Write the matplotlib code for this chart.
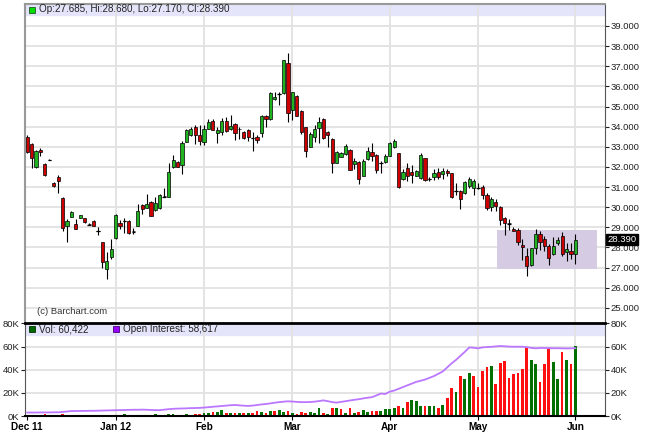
import matplotlib.pyplot as plt
from matplotlib.patches import Rectangle

plt.rcParams['font.family'] = ['Liberation Sans', 'DejaVu Sans']

# daily OHLC, Dec 1 2011 .. Jun 1 2012
opens = [33.50, 33.13, 32.01, 32.85, 32.13, 32.35, 31.20, 31.52, 30.47, 29.08,
         29.53, 29.17, 29.48, 29.45, 29.15, 29.33, 28.82, 28.26, 26.92, 27.52,
         28.46, 29.20, 29.33, 29.33, 28.80, 29.08, 30.11, 29.98, 30.28, 29.86,
         29.95, 30.55, 30.52, 31.98, 32.26, 32.10, 33.26, 33.59, 34.00, 33.59,
         33.26, 33.89, 34.30, 33.70, 33.75, 34.28, 33.87, 34.13, 33.90, 33.72,
         33.84, 33.44, 33.50, 33.67, 34.55, 34.38, 35.36, 35.64, 35.66, 37.15,
         34.83, 35.53, 34.78, 33.97, 33.00, 33.47, 33.92, 34.38, 33.72, 33.39,
         32.20, 32.51, 32.64, 32.84, 32.15, 32.26, 31.57, 32.38, 32.74, 32.60,
         32.20, 32.26, 32.55, 32.98, 32.68, 31.39, 31.93, 31.73, 31.57, 31.44,
         32.43, 31.38, 31.52, 31.77, 31.65, 31.82, 31.68, 30.80, 30.82, 30.69,
         31.06, 30.94, 30.96, 30.99, 30.61, 30.00, 30.28, 30.03, 29.45, 29.20,
         28.92, 28.87, 28.13, 27.58, 27.13, 27.96, 28.66, 28.41, 28.08, 27.68,
         28.24, 28.57, 27.76, 27.84, 27.685]
highs = [33.60, 33.18, 32.85, 32.95, 32.20, 32.38, 31.24, 31.58, 30.52, 29.40,
         29.80, 29.42, 29.63, 29.47, 29.20, 29.36, 29.00, 28.28, 27.79, 28.41,
         29.65, 29.37, 29.45, 29.36, 28.98, 30.16, 30.16, 30.66, 30.32, 30.52,
         30.64, 30.94, 32.18, 32.60, 32.30, 33.30, 33.88, 34.00, 34.10, 34.08,
         34.08, 34.40, 34.40, 34.00, 34.44, 34.50, 34.60, 34.16, 34.00, 33.80,
         33.88, 33.74, 33.60, 34.58, 34.60, 35.72, 35.74, 35.74, 37.33, 37.64,
         35.73, 35.56, 34.81, 34.00, 33.72, 34.10, 34.50, 34.42, 33.76, 33.42,
         32.79, 32.75, 33.13, 32.87, 32.45, 32.29, 32.38, 33.00, 33.20, 32.63,
         32.30, 32.66, 33.24, 33.41, 32.71, 31.90, 32.20, 32.10, 31.85, 32.70,
         32.46, 31.50, 31.88, 31.95, 31.95, 31.90, 31.71, 31.20, 30.85, 31.30,
         31.50, 31.40, 31.20, 31.10, 30.70, 30.50, 30.40, 30.06, 29.50, 29.40,
         29.02, 28.95, 28.40, 27.95, 27.99, 28.90, 28.80, 28.55, 28.15, 28.50,
         28.50, 28.77, 28.20, 28.20, 28.68]
lows = [32.70, 31.96, 31.95, 32.55, 31.55, 32.32, 31.02, 30.69, 28.82, 28.29,
        29.50, 28.90, 29.45, 29.20, 29.10, 29.05, 28.60, 26.97, 26.44, 27.45,
        28.40, 28.90, 28.70, 28.68, 28.66, 29.05, 29.66, 29.95, 29.55, 29.83,
        29.92, 30.50, 30.49, 31.95, 31.98, 31.65, 33.23, 33.56, 33.13, 33.10,
        33.10, 33.86, 33.81, 33.20, 33.57, 33.75, 33.84, 33.35, 33.40, 33.40,
        33.30, 32.80, 33.20, 33.50, 34.00, 34.35, 35.33, 35.08, 35.63, 34.25,
        34.33, 34.52, 33.62, 32.51, 32.97, 33.25, 33.20, 33.40, 33.00, 31.69,
        32.17, 32.48, 32.61, 31.83, 31.90, 31.15, 31.54, 32.35, 32.30, 31.68,
        31.68, 32.20, 32.52, 32.95, 30.95, 31.36, 31.30, 31.20, 31.54, 31.41,
        31.32, 31.28, 31.35, 31.40, 31.40, 31.55, 30.44, 30.60, 29.90, 30.66,
        30.95, 30.60, 30.90, 30.40, 29.85, 29.80, 29.80, 29.10, 28.60, 28.85,
        28.80, 28.10, 27.40, 26.60, 27.10, 27.70, 27.86, 27.83, 27.12, 27.62,
        28.10, 27.56, 27.35, 27.45, 27.17]
closes = [32.73, 32.43, 32.79, 32.75, 31.60, 32.35, 31.05, 31.30, 28.95, 29.33,
          29.75, 28.92, 29.60, 29.28, 29.14, 29.08, 28.80, 27.27, 27.35, 27.93,
          29.62, 29.08, 29.30, 28.70, 28.78, 29.83, 29.91, 30.16, 29.58, 30.23,
          30.61, 30.53, 31.73, 32.35, 32.01, 33.17, 33.84, 33.87, 33.59, 33.31,
          33.89, 34.25, 33.84, 33.84, 34.28, 33.78, 34.03, 33.70, 33.87, 33.42,
          33.50, 33.42, 33.34, 34.55, 34.40, 35.69, 35.49, 35.62, 37.30, 34.67,
          35.70, 34.55, 33.72, 32.81, 33.62, 33.89, 34.25, 33.42, 33.59, 32.18,
          32.76, 32.68, 33.04, 31.85, 32.31, 31.39, 32.30, 32.81, 32.54, 31.83,
          32.18, 32.56, 33.21, 33.31, 31.02, 31.77, 31.57, 31.60, 31.82, 32.60,
          31.35, 31.40, 31.72, 31.52, 31.82, 31.68, 30.52, 30.82, 30.39, 31.27,
          31.40, 31.32, 30.94, 30.61, 29.95, 30.39, 30.06, 29.37, 29.20, 29.17,
          28.84, 28.29, 28.00, 27.08, 27.96, 28.66, 28.29, 28.09, 27.47, 28.08,
          28.37, 27.68, 27.93, 27.68, 28.39]

# volume and open interest, thousands of contracts
volume_k = [0.3, 0.2, 0.3, 0.2, 1.5, 0.2, 0.3, 0.4, 1.5, 0.4,
            0.3, 0.3, 0.2, 0.3, 0.2, 0.3, 0.4, 0.5, 0.9, 0.6,
            1.2, 1.0, 1.3, 1.1, 1.2, 1.0, 0.8, 0.6, 1.2, 1.3,
            1.0, 0.8, 1.5, 1.4, 1.2, 1.0, 1.3, 1.1, 1.5, 1.6,
            3.0, 2.8, 3.2, 3.5, 5.0, 2.5, 2.8, 3.0, 2.5, 3.0,
            2.8, 2.2, 4.0, 3.5, 3.0, 4.5, 4.2, 5.5, 3.5, 4.0,
            3.0, 1.5, 3.5, 3.0, 3.5, 3.0, 7.0, 3.0, 1.5, 7.0,
            7.0, 6.0, 3.0, 6.5, 3.0, 3.5, 5.0, 3.5, 4.5, 4.5,
            4.5, 6.0, 6.3, 7.0, 8.5, 7.0, 12.0, 14.0, 13.0, 8.5,
            8.5, 8.5, 8.5, 7.0, 9.5, 15.5, 24.6, 21.0, 34.7, 32.0,
            37.0, 34.7, 25.0, 38.9, 42.0, 43.0, 28.0, 45.4, 47.7, 33.0,
            36.0, 37.0, 40.5, 59.9, 48.3, 44.8, 29.5, 44.8, 59.0, 46.8,
            31.8, 55.5, 48.3, 44.8, 60.4]
open_interest_k = [3.0, 3.0, 3.0, 3.1, 3.1, 3.1, 3.2, 3.2, 3.5, 3.9,
                   4.3, 4.3, 4.4, 4.4, 4.5, 4.5, 4.6, 4.7, 4.8, 4.9,
                   5.0, 5.1, 5.2, 5.3, 5.4, 5.4, 5.5, 5.4, 5.2, 5.1,
                   5.0, 5.5, 5.9, 6.2, 6.4, 6.5, 6.6, 6.8, 6.9, 7.0,
                   7.3, 7.6, 8.0, 8.3, 8.6, 9.0, 9.3, 9.5, 9.2, 8.9,
                   8.7, 9.0, 9.5, 10.0, 10.4, 10.9, 11.5, 12.0, 12.4, 12.7,
                   12.5, 12.2, 12.0, 12.0, 12.1, 12.4, 12.9, 13.5, 12.8, 12.0,
                   11.6, 12.2, 12.8, 13.4, 14.0, 14.5, 15.2, 15.8, 16.3, 17.8,
                   19.4, 19.0, 21.0, 22.0, 23.5, 25.0, 26.5, 28.0, 29.5, 30.5,
                   31.5, 33.0, 34.5, 36.5, 38.5, 42.0, 45.5, 48.5, 52.0, 55.5,
                   59.3, 59.0, 58.5, 59.3, 59.6, 59.8, 60.2, 60.5, 60.3, 60.0,
                   59.9, 59.9, 59.9, 59.5, 58.9, 58.5, 58.8, 58.8, 58.7, 58.6,
                   58.6, 58.5, 58.4, 58.5, 58.6]
last_volume = 60422
last_oi = 58617

month_labels = ['Dec 11', 'Jan 12', 'Feb', 'Mar', 'Apr', 'May', 'Jun']
month_starts = [0, 20, 40, 60, 82, 102, 124]
price_ticks = list(range(25, 40))
vol_ticks = [0, 20, 40, 60, 80]

# shaded range box (bar index span, price span)
box_x = (106.2, 128.8)
box_y = (26.93, 28.87)

W, H = 645, 437
fig = plt.figure(figsize=(W / 100, H / 100), dpi=100)


def px(x0, y0, x1, y1):
    # pixel box (top-left origin) -> figure fraction rect
    return [x0 / W, 1 - y1 / H, (x1 - x0) / W, (y1 - y0) / H]


ax = fig.add_axes(px(25, 4, 605, 323))
axv = fig.add_axes(px(25, 323, 605, 416))

n = len(closes)
xs = list(range(n))
xlim = (-0.5, 130.7)

up_green, dn_red = '#1fb31f', '#cc0000'
grid_c = '#e2e2e2'

# ---- price panel ----
ax.set_xlim(*xlim)
ax.set_ylim(24.25, 40.09)
ax.axhspan(39.55, 40.09, color='#e4e4fa', zorder=0)
for p in price_ticks:
    ax.axhline(p, color=grid_c, lw=1.3, zorder=0.5)
for m in month_starts[1:]:
    ax.axvline(m, color=grid_c, lw=1.3, zorder=0.5)

ax.add_patch(Rectangle((box_x[0], box_y[0]), box_x[1] - box_x[0], box_y[1] - box_y[0],
                       facecolor='#d5cce3', edgecolor='none', zorder=1))

ax.vlines(xs, lows, highs, color='black', lw=0.8, zorder=2)
body_c = [up_green if c > o else dn_red for o, c in zip(opens, closes)]
body_h = [c - o if abs(c - o) > 0.03 else 0.0 for o, c in zip(opens, closes)]
ax.bar(xs, body_h, bottom=opens, width=0.72, color=body_c,
       edgecolor='black', linewidth=0.5, zorder=3)
for i in xs:
    if body_h[i] == 0.0:
        ax.hlines(closes[i], i - 0.4, i + 0.4, color='black', lw=0.9, zorder=3)

ax.yaxis.tick_right()
ax.set_yticks(price_ticks)
ax.set_yticklabels(['%.3f' % p for p in price_ticks])
ax.tick_params(axis='y', right=True, left=False, length=3, width=0.8,
               labelsize=6.8, pad=1, colors='#222222')
ax.tick_params(axis='x', bottom=False, labelbottom=False)
for s in ['left', 'top']:
    ax.spines[s].set_color('#999999')
    ax.spines[s].set_linewidth(1.5)
ax.spines['right'].set_color('#555555')
ax.spines['bottom'].set_visible(False)

# last price tag on the right axis
ax.text(1.004, closes[-1], '%.3f' % closes[-1], transform=ax.get_yaxis_transform(),
        color='white', fontsize=6.8, va='center', ha='left', zorder=5,
        bbox=dict(boxstyle='square,pad=0.12', facecolor='black', edgecolor='black'),
        clip_on=False)

fig.text(37 / W, 1 - 311 / H, '(c) Barchart.com', fontsize=6.8, color='#333333',
         va='center', ha='left')

# header legend
fig.patches.append(Rectangle((29 / W, 1 - 13 / H), 6 / W, 6 / H, transform=fig.transFigure,
                             facecolor='#00dd00', edgecolor='#225522', lw=0.6))
fig.text(39 / W, 1 - 9.5 / H,
         'Op:%.3f, Hi:%.3f, Lo:%.3f, Cl:%.3f' % (opens[-1], highs[-1], lows[-1], closes[-1]),
         fontsize=7.1, va='center', ha='left', color='#222222')

# ---- volume panel ----
axv.set_xlim(*xlim)
axv.set_ylim(0, 80.4)
axv.axhspan(69.6, 80.4, color='#e4e4fa', zorder=0)
for v in vol_ticks[1:-1]:
    axv.axhline(v, color=grid_c, lw=1.3, zorder=0.5)
for m in month_starts[1:]:
    axv.axvline(m, color=grid_c, lw=1.3, zorder=0.5)

# volume colour follows close vs previous close
vol_c = ['#ff1010'] + ['#007000' if closes[i] >= closes[i - 1] else '#ff1010'
                       for i in xs[1:]]
axv.bar(xs, volume_k, width=0.62, color=vol_c, zorder=2)
axv.plot(xs, open_interest_k, color='#bb77ff', lw=1.3, zorder=3)

axv.set_yticks(vol_ticks)
axv.set_yticklabels(['%dK' % v for v in vol_ticks])
axv.tick_params(axis='y', left=True, right=True, labelleft=True, labelright=True,
                length=3, width=0.8, labelsize=6.8, pad=1, colors='#222222')
axv.set_xticks(month_starts)
axv.set_xticklabels(month_labels, fontweight='bold', fontsize=7.2)
axv.tick_params(axis='x', length=3, width=0.8, pad=1)
axv.spines['top'].set_linewidth(2)
axv.spines['top'].set_color('black')
axv.spines['bottom'].set_linewidth(1.5)
axv.spines['left'].set_color('#555555')
axv.spines['right'].set_color('#555555')

fig.patches.append(Rectangle((29 / W, 1 - 332 / H), 6 / W, 6 / H, transform=fig.transFigure,
                             facecolor='#006600', edgecolor='#003300', lw=0.6))
fig.text(39 / W, 1 - 329 / H, 'Vol: {:,}'.format(last_volume), fontsize=7.1,
         va='center', ha='left', color='#222222')
fig.patches.append(Rectangle((113 / W, 1 - 332 / H), 6 / W, 6 / H, transform=fig.transFigure,
                             facecolor='#9900ff', edgecolor='#440077', lw=0.6))
fig.text(123 / W, 1 - 329 / H, 'Open Interest: {:,}'.format(last_oi), fontsize=7.1,
         va='center', ha='left', color='#222222')

fig.savefig('out.png', dpi=100)
